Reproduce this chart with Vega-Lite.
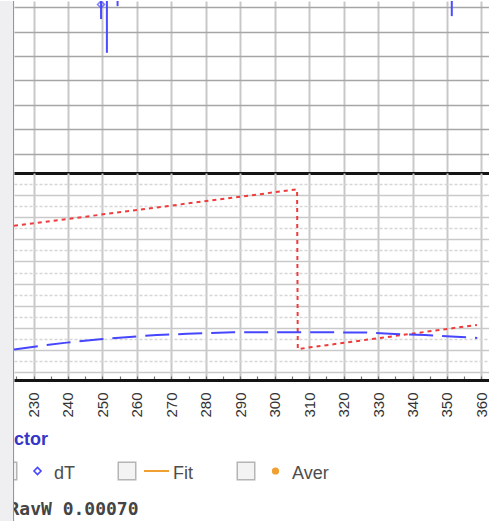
{
  "$schema": "https://vega.github.io/schema/vega-lite/v6.json",
  "background": "white",
  "padding": 0,
  "spacing": 0,
  "bounds": "flush",
  "config": {
    "view": {"stroke": null},
    "axis": {"labelFont": "Liberation Sans", "titleFont": "Liberation Sans"}
  },
  "datasets": {
    "dT": [
      {"x": 249.6, "dT": 6.11, "lo": 5.51, "hi": 6.71},
      {"x": 251.3, "dT": 6.9, "lo": 4.13, "hi": 9.67},
      {"x": 254.4, "dT": 6.6, "lo": 6.04, "hi": 7.16},
      {"x": 351.4, "dT": 6.7, "lo": 5.63, "hi": 7.77}
    ],
    "model": [
      {"x": 224.34, "v": 6.61},
      {"x": 306.5, "v": 8.26},
      {"x": 306.7, "v": 1.04},
      {"x": 358.7, "v": 2.13}
    ],
    "mean": [
      {"x": 224.34, "v": 1.02},
      {"x": 231.9, "v": 1.18},
      {"x": 239.6, "v": 1.33},
      {"x": 249.3, "v": 1.48},
      {"x": 258.9, "v": 1.6},
      {"x": 265.8, "v": 1.67},
      {"x": 274.6, "v": 1.73},
      {"x": 287.9, "v": 1.8},
      {"x": 301.6, "v": 1.8},
      {"x": 325.9, "v": 1.79},
      {"x": 333.5, "v": 1.73},
      {"x": 343.6, "v": 1.67},
      {"x": 351.2, "v": 1.61},
      {"x": 358.8, "v": 1.54}
    ],
    "items": [
      {"item": "dT"},
      {"item": "Fit"},
      {"item": "Aver"}
    ]
  },
  "hconcat": [
    {
      "width": 14,
      "height": 521,
      "view": {"fill": "#efeff1"},
      "data": {"values": [{}]},
      "mark": {"type": "rule", "color": "#8f8f8f", "strokeWidth": 1},
      "encoding": {
        "x": {"datum": 0.97, "type": "quantitative", "scale": {"domain": [0, 1]}, "axis": null}
      }
    },
    {
      "vconcat": [
        {
          "width": 475,
          "height": 172,
          "data": {"name": "dT"},
          "encoding": {
            "x": {
              "field": "x",
              "type": "quantitative",
              "scale": {"domain": [224.34, 362.2], "nice": false, "zero": false},
              "axis": {
                "values": [230, 240, 250, 260, 270, 280, 290, 300, 310, 320, 330, 340, 350, 360],
                "labels": false,
                "ticks": false,
                "domain": true,
                "domainColor": "#141414",
                "domainWidth": 3,
                "grid": true,
                "gridColor": "#c8c8c8",
                "gridWidth": 2,
                "title": null
              }
            }
          },
          "layer": [
            {
              "mark": {"type": "rule", "color": "#4b4bff", "strokeWidth": 2, "clip": true},
              "encoding": {
                "y": {
                  "field": "lo",
                  "type": "quantitative",
                  "scale": {"domain": [-0.79, 6.25], "nice": false, "zero": false},
                  "axis": {
                    "values": [0, 1, 2, 3, 4, 5, 6],
                    "tickCount": 7,
                    "labelOverlap": false,
                    "labels": false,
                    "ticks": false,
                    "domain": false,
                    "grid": true,
                    "gridColor": "#a6a6a6",
                    "gridWidth": 1.6,
                    "title": null
                  }
                },
                "y2": {"field": "hi"}
              }
            },
            {
              "mark": {"type": "point", "shape": "diamond", "filled": false, "color": "#4b4bff", "size": 49, "strokeWidth": 1.5, "clip": true},
              "encoding": {
                "y": {"field": "dT", "type": "quantitative"}
              }
            }
          ]
        },
        {
          "width": 475,
          "height": 207,
          "encoding": {
            "x": {
              "field": "x",
              "type": "quantitative",
              "scale": {"domain": [224.34, 362.2], "nice": false, "zero": false},
              "axis": {
                "values": [225, 230, 235, 240, 245, 250, 255, 260, 265, 270, 275, 280, 285, 290, 295, 300, 305, 310, 315, 320, 325, 330, 335, 340, 345, 350, 355, 360],
                "labelExpr": "datum.value % 10 === 0 ? datum.label : ''",
                "labelAngle": 270,
                "labelFontSize": 15,
                "labelColor": "#333333",
                "labelPadding": 16,
                "labelFlush": false,
                "labelOverlap": false,
                "ticks": true,
                "tickSize": -4,
                "tickColor": "#707070",
                "tickWidth": 1.2,
                "domain": true,
                "domainColor": "#141414",
                "domainWidth": 3,
                "grid": true,
                "gridColor": {"condition": {"test": "datum.value % 10 !== 0", "value": "transparent"}, "value": "#c8c8c8"},
                "gridWidth": 2,
                "title": null
              }
            }
          },
          "layer": [
            {
              "data": {"name": "model"},
              "mark": {"type": "line", "color": "#ee3b3b", "strokeWidth": 2, "strokeDash": [4, 4], "clip": true},
              "encoding": {
                "y": {
                  "field": "v",
                  "type": "quantitative",
                  "scale": {"domain": [-0.36, 9], "nice": false, "zero": false},
                  "axis": {
                    "orient": "left",
                    "values": [0, 1, 2, 3, 4, 5, 6, 7, 8],
                    "labelOverlap": false,
                    "labels": false,
                    "ticks": false,
                    "domain": false,
                    "grid": true,
                    "gridColor": "#c9c9c9",
                    "gridWidth": 1.6,
                    "title": null
                  }
                }
              }
            },
            {
              "data": {"name": "mean"},
              "mark": {"type": "line", "color": "#4646ff", "strokeWidth": 2, "strokeDash": [24, 9], "clip": true},
              "encoding": {
                "y": {
                  "field": "v",
                  "type": "quantitative",
                  "axis": {
                    "orient": "left",
                    "values": [0.5, 1.5, 2.5, 3.5, 4.5, 5.5, 6.5, 7.5, 8.5],
                    "labelOverlap": false,
                    "labels": false,
                    "ticks": false,
                    "domain": false,
                    "grid": true,
                    "gridColor": "#d6d6d6",
                    "gridWidth": 1.3,
                    "gridDash": [3, 2],
                    "title": null
                  }
                }
              }
            }
          ],
          "resolve": {"axis": {"y": "independent"}}
        },
        {
          "width": 475,
          "height": 142,
          "data": {"name": "items"},
          "encoding": {
            "x": {
              "field": "item",
              "type": "nominal",
              "scale": {"type": "point", "domain": ["dT", "Fit", "Aver"], "range": [-15, 223], "padding": 0},
              "axis": null
            }
          },
          "layer": [
            {
              "mark": {"type": "point", "shape": "square", "filled": true, "fill": "#eeeeee", "stroke": "#969696", "strokeWidth": 1.5, "size": 306, "xOffset": 9, "yOffset": 20, "clip": true}
            },
            {
              "mark": {"type": "point", "filled": false, "xOffset": 38.5, "yOffset": 20, "opacity": 1, "clip": true},
              "encoding": {
                "shape": {"field": "item", "type": "nominal", "scale": {"domain": ["dT", "Fit", "Aver"], "range": ["diamond", "stroke", "circle"]}, "legend": null},
                "color": {"field": "item", "type": "nominal", "scale": {"domain": ["dT", "Fit", "Aver"], "range": ["#4646ff", "#f0a030", "#f0a030"]}, "legend": null},
                "size": {"field": "item", "type": "nominal", "scale": {"type": "ordinal", "domain": ["dT", "Fit", "Aver"], "range": [49, 625, 14]}, "legend": null},
                "strokeWidth": {"field": "item", "type": "nominal", "scale": {"type": "ordinal", "domain": ["dT", "Fit", "Aver"], "range": [1.6, 2, 3.5]}, "legend": null}
              }
            },
            {
              "mark": {"type": "text", "align": "left", "baseline": "alphabetic", "dx": 55, "dy": 28, "font": "Liberation Sans", "fontSize": 18, "color": "#4d4d4d", "clip": true},
              "encoding": {"text": {"field": "item"}}
            },
            {
              "data": {"values": [{"t": "ctor"}]},
              "mark": {"type": "text", "align": "left", "baseline": "alphabetic", "dx": 15, "dy": -6.5, "font": "Liberation Sans", "fontSize": 18, "fontWeight": "bold", "color": "#3535c8", "clip": true},
              "encoding": {
                "x": {"datum": "dT", "type": "nominal"},
                "text": {"field": "t"}
              }
            },
            {
              "data": {"values": [{"t": "RavW 0.00070"}]},
              "mark": {"type": "text", "align": "left", "baseline": "alphabetic", "dx": 9.5, "dy": 64, "font": "DejaVu Sans Mono", "fontSize": 18, "fontWeight": "bold", "color": "#444444", "clip": true},
              "encoding": {
                "x": {"datum": "dT", "type": "nominal"},
                "text": {"field": "t"}
              }
            }
          ]
        }
      ],
      "spacing": 0,
      "bounds": "flush"
    }
  ]
}
